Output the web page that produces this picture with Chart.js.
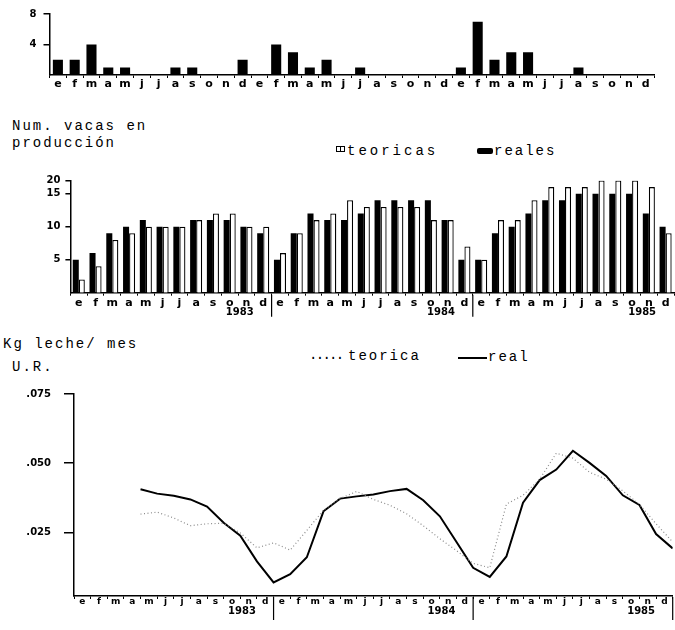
<!DOCTYPE html>
<html>
<head>
<meta charset="utf-8">
<script src="https://cdn.jsdelivr.net/npm/chart.js@4.4.0/dist/chart.umd.min.js"></script>
<style>
  body { margin: 0; background: #fff; }
  #lienzo { position: relative; width: 675px; height: 630px; overflow: hidden; background: #fff; }
  .panel { position: absolute; left: 0; width: 675px; }
  .texto { position: absolute; font-family: "Liberation Mono", monospace; font-size: 14px; letter-spacing: 2px; color: #000; white-space: nowrap; line-height: 1; }
  .caja { position: absolute; border: 1.5px solid #000; background: #fff; }
</style>
</head>
<body>
<div id="lienzo">
  <div class="panel" style="top:0;height:100px"><canvas id="grafSuperior"></canvas></div>

  <div class="texto" style="left:12px;top:119px">Num. vacas en</div>
  <div class="texto" style="left:12px;top:136px">producción</div>
  <div class="caja" style="left:336px;top:146px;width:3px;height:4px"></div>
  <div class="caja" style="left:340px;top:146px;width:3px;height:4px"></div>
  <div class="texto" style="left:347px;top:144px;letter-spacing:3px">teoricas</div>
  <div style="position:absolute;left:477px;top:148px;width:16px;height:6px;background:#000;border-radius:2px"></div>
  <div class="texto" style="left:494px;top:144px">reales</div>
  <div class="panel" style="top:160px;height:160px"><canvas id="grafVacas"></canvas></div>

  <div class="texto" style="left:3px;top:337px">Kg leche/ mes</div>
  <div class="texto" style="left:12px;top:360px">U.R.</div>
  <div class="texto" style="left:309px;top:348px;letter-spacing:-1.7px">.....</div>
  <div class="texto" style="left:348px;top:349px">teorica</div>
  <div style="position:absolute;left:458px;top:357px;width:29px;height:1.5px;background:#000"></div>
  <div class="texto" style="left:488px;top:350px">real</div>
  <div class="panel" style="top:375px;height:255px"><canvas id="grafLeche"></canvas></div>
</div>

<script>
// === Datos ===
const meses = ['e', 'f', 'm', 'a', 'm', 'j', 'j', 'a', 's', 'o', 'n', 'd'];
const anios = ['1983', '1984', '1985'];
const categorias = anios.flatMap(() => meses);

// panel superior (sin titulo)
const serieSuperior = [2, 2, 4, 1, 1, 0, 0, 1, 1, 0, 0, 2,
                       0, 4, 3, 1, 2, 0, 1, 0, 0, 0, 0, 0,
                       1, 7, 2, 3, 3, 0, 0, 1, 0, 0, 0, 0];
const superiorTicks = [4, 8];
const superiorEtiquetas = ['4', '8'];

// Num. vacas en produccion
const vacasReales = [5, 6, 9, 10, 11, 10, 10, 11, 11, 11, 10, 9,
                     5, 9, 12, 11, 11, 12, 14, 14, 14, 14, 11, 5,
                     5, 9, 10, 12, 14, 14, 15, 15, 15, 15, 12, 10];
const vacasTeoricas = [2, 4, 8, 9, 10, 10, 10, 11, 12, 12, 10, 10,
                       6, 9, 11, 12, 14, 13, 13, 13, 13, 11, 11, 7,
                       5, 11, 11, 14, 16, 16, 16, 17, 17, 17, 16, 9];
// el eje original pone "20" en lo alto del eje, que esta a la altura de 17
const vacasTicks = [5, 10, 15, 17];
const vacasEtiquetas = ['5', '10', '15', '20'];

// Kg leche / mes  U.R.  (sin dato en e, f, m de 1983)
const lecheReal = [null, null, null, 0.0406, 0.0390, 0.0382, 0.0369, 0.0343, 0.0285, 0.0238, 0.0145, 0.0069,
                   0.0099, 0.0160, 0.0326, 0.0372, 0.0380, 0.0387, 0.0399, 0.0407, 0.0366, 0.0308, 0.0215, 0.0122,
                   0.0089, 0.0163, 0.0357, 0.0439, 0.0477, 0.0545, 0.0501, 0.0454, 0.0384, 0.0349, 0.0244, 0.0192];
const lecheTeorica = [null, null, null, 0.0316, 0.0323, 0.0302, 0.0274, 0.0281, 0.0283, 0.0248, 0.0194, 0.0212,
                      0.0186, 0.0257, 0.0330, 0.0372, 0.0398, 0.0369, 0.0348, 0.0317, 0.0274, 0.0227, 0.0184, 0.0138,
                      0.0122, 0.0352, 0.0384, 0.0442, 0.0536, 0.0518, 0.0467, 0.0442, 0.0400, 0.0351, 0.0281, 0.0215];
const lecheTicks = [0.025, 0.05, 0.075];
const lecheEtiquetas = ['.025', '.050', '.075'];

// posicion (en meses) de cada rotulo de año, entre "o" y "n"
const aniosPos = [9.6, 21.6, 33.6];

// === Estilo comun ===
const negro = '#000';
const fuenteEje = { family: 'DejaVu Sans', size: 10, weight: 'bold' };

function ejeY(min, max, valores, etiquetas, ancho, largoTick, sep) {
  return {
    min: min, max: max,
    afterBuildTicks: s => { s.ticks = valores.map(v => ({ value: v })); },
    afterFit: s => { s.width = ancho; },
    grid: { drawOnChartArea: false, drawTicks: true, tickLength: largoTick, color: negro, lineWidth: 1.5 },
    border: { display: true, color: negro, width: 1.5 },
    ticks: { font: fuenteEje, color: negro, padding: sep, callback: (v, i) => etiquetas[i] }
  };
}

function ejeMeses(alto, sep, tam) {
  return {
    type: 'category', offset: true,
    afterFit: s => { s.height = alto; },
    grid: { drawOnChartArea: false, drawTicks: true, tickLength: 3, color: negro, lineWidth: 1, offset: true },
    border: { display: true, color: negro, width: 1.5 },
    ticks: { font: { family: 'DejaVu Sans', size: tam, weight: 'bold' }, color: negro, padding: sep,
             maxRotation: 0, autoSkip: false }
  };
}

// rotulos de año y rayas verticales que separan los años bajo el eje
const rotulosAnio = {
  id: 'rotulosAnio',
  afterDraw(chart, args, opts) {
    const x = chart.scales.x;
    const ctx = chart.ctx;
    ctx.save();
    ctx.strokeStyle = negro;
    ctx.lineWidth = 1.2;
    opts.limites.forEach(k => {
      const px = x.getPixelForValue(k - 0.5);
      ctx.beginPath();
      ctx.moveTo(px, x.top + opts.desde);
      ctx.lineTo(px, x.top + opts.largo);
      ctx.stroke();
    });
    ctx.fillStyle = negro;
    ctx.font = 'bold 10px "DejaVu Sans"';
    ctx.textAlign = 'center';
    ctx.textBaseline = 'middle';
    anios.forEach((a, i) => {
      ctx.fillText(a, x.getPixelForValue(aniosPos[i]), x.top + opts.altoAnio);
    });
    ctx.restore();
  }
};

const base = {
  responsive: true,
  maintainAspectRatio: false,
  animation: false,
  events: []
};

// === Panel superior ===
new Chart(document.getElementById('grafSuperior'), {
  type: 'bar',
  data: {
    labels: categorias,
    datasets: [{ data: serieSuperior, backgroundColor: negro, barPercentage: 0.6, categoryPercentage: 1 }]
  },
  options: {
    ...base,
    layout: { padding: { top: 14, right: 21, left: 0, bottom: 0 } },
    plugins: { legend: { display: false }, tooltip: { enabled: false } },
    scales: {
      x: ejeMeses(25, 0, 11),
      y: ejeY(0, 8, superiorTicks, superiorEtiquetas, 49.5, 6, 7)
    }
  }
});

// === Num. vacas en produccion ===
new Chart(document.getElementById('grafVacas'), {
  type: 'bar',
  data: {
    labels: categorias,
    datasets: [
      { label: 'reales', data: vacasReales, backgroundColor: negro, borderColor: negro, borderWidth: 0,
        barPercentage: 1, categoryPercentage: 0.72 },
      { label: 'teoricas', data: vacasTeoricas, backgroundColor: '#fff', borderColor: negro, borderWidth: 1.3,
        barPercentage: 1, categoryPercentage: 0.72 }
    ]
  },
  options: {
    ...base,
    layout: { padding: { top: 20.5, right: 1, left: 0, bottom: 0 } },
    plugins: {
      legend: { display: false }, tooltip: { enabled: false },
      rotulosAnio: { limites: [12, 24], desde: 2, largo: 24, altoAnio: 19.5 }
    },
    scales: {
      x: ejeMeses(27.3, 1, 11),
      y: ejeY(0, 17, vacasTicks, vacasEtiquetas, 70.4, 5, 5)
    }
  },
  plugins: [rotulosAnio]
});

// === Kg leche / mes ===
// cada valor se dibuja al final de su mes (indice + 0.5 en el eje lineal)
const puntos = serie => serie.map((v, i) => (v === null ? null : { x: i + 0.5, y: v })).filter(p => p);

new Chart(document.getElementById('grafLeche'), {
  type: 'line',
  data: {
    labels: categorias,
    datasets: [
      { label: 'teorica', data: puntos(lecheTeorica), xAxisID: 'xl', borderColor: '#8a8a8a', borderWidth: 1.2,
        borderDash: [1, 2.5], pointRadius: 0, tension: 0, fill: false },
      { label: 'real', data: puntos(lecheReal), xAxisID: 'xl', borderColor: negro, borderWidth: 2,
        pointRadius: 0, tension: 0, fill: false }
    ]
  },
  options: {
    ...base,
    layout: { padding: { top: 12, right: 2.3, left: 0, bottom: 0 } },
    plugins: {
      legend: { display: false }, tooltip: { enabled: false },
      rotulosAnio: { limites: [12, 24, 36], desde: 1, largo: 24, altoAnio: 15 }
    },
    scales: {
      x: ejeMeses(34, -3, 9),
      xl: { type: 'linear', display: false, min: -0.5, max: 35.5 },
      y: ejeY(0.002, 0.075, lecheTicks, lecheEtiquetas, 74, 10, 13)
    }
  },
  plugins: [rotulosAnio]
});
</script>
</body>
</html>
